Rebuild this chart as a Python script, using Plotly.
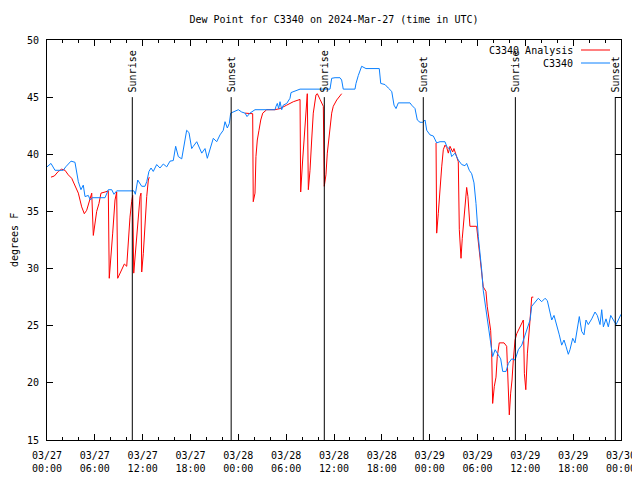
import numpy as np
import pandas as pd
import plotly.graph_objects as go

BASE = pd.Timestamp("2024-03-27 00:00")

# C3340 observations (hours after 2024-03-27 00:00 UTC, dew point degF)
obs_hours = [0.00, 0.50, 1.00, 2.04, 2.35, 3.01, 3.51, 3.76, 3.93, 4.26, 4.55, 4.77, 5.18, 5.43, 5.68,
             7.28, 7.69, 8.12, 8.40, 8.74, 10.91, 11.08, 11.38, 11.88, 12.29, 12.51, 12.79, 13.05, 13.33,
             13.76, 14.17, 14.59, 15.02, 15.43, 15.84, 16.14, 16.47, 16.90, 17.22, 17.52, 17.81, 18.15,
             18.35, 18.78, 19.41, 19.82, 20.11, 20.45, 20.86, 21.29, 21.70, 22.11, 22.33, 22.62, 22.87,
             23.04, 23.37, 24.00, 24.42, 24.84, 25.09, 25.46, 26.09, 28.60, 28.73, 28.89, 29.06, 29.23,
             29.44, 29.64, 30.07, 30.48, 30.61, 31.74, 35.50, 35.71, 36.13, 36.75, 36.96, 37.16, 38.63,
             38.76, 39.05, 39.47, 40.01, 41.68, 41.86, 42.40, 42.81, 43.24, 43.53, 43.78, 44.07, 45.53,
             45.74, 46.16, 46.45, 46.79, 47.13, 47.42, 47.63, 48.04, 48.46, 48.88, 49.30, 49.92, 50.14,
             50.55, 50.76, 51.18, 51.59, 52.02, 52.43, 52.64, 52.97, 53.27, 53.56, 53.81, 54.10, 54.31,
             54.52, 54.72, 55.06, 55.35, 55.65, 55.90, 56.21, 56.61, 56.91, 57.16, 57.58, 57.87, 58.29,
             58.71, 59.12, 59.55, 59.84, 60.17, 60.59, 60.80, 61.21, 61.63, 62.05, 62.47, 62.76, 63.01,
             63.31, 63.60, 63.94, 64.26, 64.56, 64.85, 65.10, 65.39, 65.60, 65.94, 66.23, 66.52, 66.77,
             67.07, 67.36, 67.61, 67.90, 68.33, 68.74, 69.03, 69.37, 69.58, 69.79, 70.12, 70.41, 70.71,
             71.04, 71.38, 71.66, 72.00]
obs_vals = [38.9, 39.2, 38.6, 38.6, 38.9, 39.4, 39.3, 38.3, 37.6, 36.9, 37.3, 36.3, 36.4, 36.0, 36.2,
            36.2, 36.9, 36.9, 36.5, 36.8, 36.8, 36.5, 37.75, 37.2, 37.2, 37.6, 38.5, 38.8, 38.5,
            39.1, 38.8, 39.15, 38.9, 39.4, 39.45, 40.7, 39.8, 39.6, 41.0, 42.1, 41.9, 40.5,
            40.7, 41.1, 40.1, 40.5, 39.65, 40.5, 41.4, 41.1, 41.7, 42.1, 42.85, 42.3, 42.7,
            43.6, 43.7, 43.9, 43.7, 43.6, 43.3, 43.6, 43.9, 43.9, 44.2, 44.45, 44.0, 44.6,
            43.9, 44.3, 44.45, 44.9, 45.4, 45.7, 45.7, 46.65, 46.7, 46.7, 46.5, 45.7, 45.7,
            46.2, 46.9, 47.7, 47.5, 47.5, 46.2, 46.1, 45.8, 45.5, 44.3, 44.0, 44.5, 44.5,
            44.3, 44.0, 43.0, 42.8, 42.8, 43.0, 42.1, 41.7, 41.6, 41.0, 41.1, 41.1, 40.7,
            40.4, 39.8, 40.1, 39.5, 39.1, 39.0, 39.2, 38.6, 38.3, 37.5, 35.7, 32.8, 31.6,
            29.9, 28.1, 26.4, 24.9, 23.75, 22.3, 22.9, 22.4, 22.1, 21.0, 21.0, 21.7, 22.1,
            22.0, 22.9, 23.3, 23.9, 24.6, 25.5, 26.7, 27.0, 27.4, 27.1, 27.4, 27.2, 26.4,
            25.5, 25.9, 25.1, 24.2, 23.3, 23.75, 23.2, 22.5, 22.9, 23.9, 23.5, 24.8, 25.8,
            24.5, 24.2, 25.5, 25.1, 25.6, 26.2, 25.9, 25.1, 26.4, 24.9, 25.6, 24.9, 25.9,
            25.5, 25.1, 25.5, 26.0]

# C3340 Analysis (None = no value shown)
ana_hours = [0.50, 0.92, 1.42, 1.84, 2.26, 2.67, 3.10, 3.51, 3.93, 4.35, 4.68, 4.98, 5.27, 5.61, 5.81,
             6.02, 6.23, 6.52, 6.77, 7.28, 7.69, 7.81, 8.03, 8.24, 8.53, 8.74, 8.87, 9.16, 9.70, 10.00,
             10.20, 10.41, 10.62, 10.75, 10.88, 11.13, 11.45, 11.67, 11.79, 11.88, 12.08, 12.29, 12.51,
             12.71, 12.83, None,
             24.84, 25.80, 25.87, 26.09, 26.21, 26.38, 26.59, 26.81, 27.06, 27.56, 28.60, 29.23, 30.07,
             30.90, 31.74, 31.82, 32.07, 32.28, 32.49, 32.65, 32.78, 32.99, 33.20, 33.40, 33.74, 33.91,
             34.25, 34.66, 34.78, 34.99, 35.16, 35.41, 35.71, 35.91, 36.34, 36.96, None,
             48.80, 48.88, 49.08, 49.30, 49.51, 49.71, 49.92, 50.14, 50.34, 50.55, 50.88, 51.05, 51.30,
             51.59, 51.72, 51.93, 52.09, 52.31, 52.47, 52.64, 52.80, 52.93, 53.05, 53.89, 54.10, 54.31,
             54.72, 55.06, 55.22, 55.47, 55.65, 55.78, 55.90, 56.11, 56.32, 56.48, 56.73, 57.33, 57.66,
             57.74, 57.86, 57.99, 58.16, 58.33, 58.49, 58.71, 58.92, 59.25, 59.55, 59.75, 59.88, 60.06,
             60.26, 60.43, 60.59, 60.80, 61.00]
ana_vals = [38.0, 38.1, 38.5, 38.7, 38.6, 38.2, 37.9, 37.2, 36.6, 35.4, 34.8, 35.1, 35.85, 36.6, 32.9,
            34.0, 35.0, 35.7, 36.6, 36.7, 36.8, 29.15, 31.0, 33.1, 36.0, 36.7, 29.15, 29.6, 30.4, 30.2,
            32.8, 34.5, 35.85, 36.4, 29.6, 31.9, 34.5, 36.3, 36.6, 29.7, 31.3, 34.0, 36.3,
            37.75, 38.0, None,
            43.6, 43.55, 35.85, 36.6, 39.8, 41.25, 42.1, 43.0, 43.6, 43.9, 43.9, 44.0, 44.3,
            44.6, 44.8, 36.7, 39.5, 41.5, 43.6, 45.3, 36.9, 38.6, 41.25, 43.6, 45.2, 45.3,
            44.8, 44.2, 37.2, 38.2, 40.1, 41.8, 43.6, 44.2, 44.75, 45.3, None,
            41.0, 33.1, 34.8, 37.2, 38.9, 40.4, 40.8, 40.6, 40.1, 40.7, 40.2, 40.5, 39.9,
            39.35, 33.4, 30.9, 32.65, 34.5, 35.6, 37.1, 36.3, 34.7, 33.7, 33.7, 32.5, 31.0,
            28.4, 28.0, 26.7, 25.5, 24.6, 22.6, 18.2, 19.7, 20.5, 22.3, 23.5, 23.5, 23.2,
            21.7, 18.65, 17.2, 19.1, 20.25, 22.0, 23.75, 24.3, 24.8, 25.35, 25.5, 20.8, 19.4,
            22.6, 24.6, 25.5, 27.5, 27.5]

sun_times = ["2024-03-27 10:42", "2024-03-27 23:06", "2024-03-28 10:47",
             "2024-03-28 23:12", "2024-03-29 10:45", "2024-03-29 23:17"]
sun_labels = ["Sunrise", "Sunset", "Sunrise", "Sunset", "Sunrise", "Sunset"]
sun_line_range = [15, 45]

FONT = "DejaVu Sans Mono"
RED = "#ff0000"
BLUE = "#0a80ff"

# page body has an 8px margin: shrink the figure so the plot area lands at 47..621 x 40..440
OFF = 8
W, H = 640 - OFF, 480 - OFF
ML, MR, MT, MB = 47 - OFF, 19, 40 - OFF, 40


def to_time(hours):
    h = np.array(hours, dtype=float)
    return BASE + pd.to_timedelta(h, unit="h")


fig = go.Figure()
fig.add_trace(go.Scatter(x=to_time(ana_hours), y=ana_vals, mode="lines",
                         line=dict(color=RED, width=1), name="C3340 Analysis",
                         connectgaps=False, showlegend=False))
fig.add_trace(go.Scatter(x=to_time(obs_hours), y=obs_vals, mode="lines",
                         line=dict(color=BLUE, width=1), name="C3340",
                         showlegend=False))

for t, lab in zip(sun_times, sun_labels):
    fig.add_shape(type="line", xref="x", yref="y", x0=t, x1=t,
                  y0=sun_line_range[0], y1=sun_line_range[1],
                  line=dict(color="black", width=1))
    fig.add_annotation(x=t, y=sun_line_range[1], xref="x", yref="y", text=lab,
                       textangle=-90, showarrow=False, xanchor="center", yanchor="bottom",
                       yshift=3, font=dict(family=FONT, size=10, color="black"))

# gnuplot-style key: text left, sample right
PW = 574.0
PH = 400.0
for i, (name, col) in enumerate([("C3340 Analysis", RED), ("C3340", BLUE)]):
    ypx = 50 + 13 * i
    yp = (440 - ypx) / PH
    fig.add_annotation(x=(575 - 47) / PW, y=yp, xref="paper", yref="paper", text=name,
                       showarrow=False, xanchor="right", yanchor="middle",
                       font=dict(family=FONT, size=10, color="black"))
    fig.add_shape(type="line", xref="paper", yref="paper",
                  x0=(581 - 47) / PW, x1=(610 - 47) / PW, y0=yp, y1=yp,
                  line=dict(color=col, width=1))

fig.add_annotation(x=-(47 - 14) / PW, y=0.5, xref="paper", yref="paper", text="degrees F",
                   textangle=-90, showarrow=False, xanchor="center", yanchor="middle",
                   font=dict(family=FONT, size=10, color="black"))

fig.update_layout(
    width=W, height=H,
    margin=dict(l=ML, r=MR, t=MT, b=MB, pad=0, autoexpand=False),
    paper_bgcolor="white", plot_bgcolor="white",
    title=dict(text="Dew Point for C3340 on 2024-Mar-27 (time in UTC)",
               x=(334 - OFF) / W, xanchor="center", y=1 - (19 - OFF) / H, yanchor="middle",
               font=dict(family=FONT, size=10, color="black")),
    font=dict(family=FONT, size=10, color="black"),
    showlegend=False,
)
fig.update_xaxes(
    type="date", range=["2024-03-27 00:00", "2024-03-30 00:00"],
    tickmode="linear", tick0="2024-03-27 00:00", dtick=6 * 3600 * 1000,
    tickformat="%m/%d<br>%H:%M", automargin=False, ticklabelstandoff=6,
    ticks="inside", ticklen=6, tickcolor="black", tickwidth=1,
    minor=dict(ticks="inside", dtick=2 * 3600 * 1000, ticklen=3, tickcolor="black"),
    showline=True, linecolor="black", linewidth=1, mirror="ticks",
    showgrid=False, zeroline=False,
    tickfont=dict(family=FONT, size=10, color="black"),
)
fig.update_yaxes(
    range=[15, 50], tickmode="linear", tick0=15, dtick=5, automargin=False,
    ticklabelstandoff=5,
    ticks="inside", ticklen=6, tickcolor="black", tickwidth=1,
    showline=True, linecolor="black", linewidth=1, mirror="ticks",
    showgrid=False, zeroline=False,
    tickfont=dict(family=FONT, size=10, color="black"),
)

fig.write_html("out.html")
